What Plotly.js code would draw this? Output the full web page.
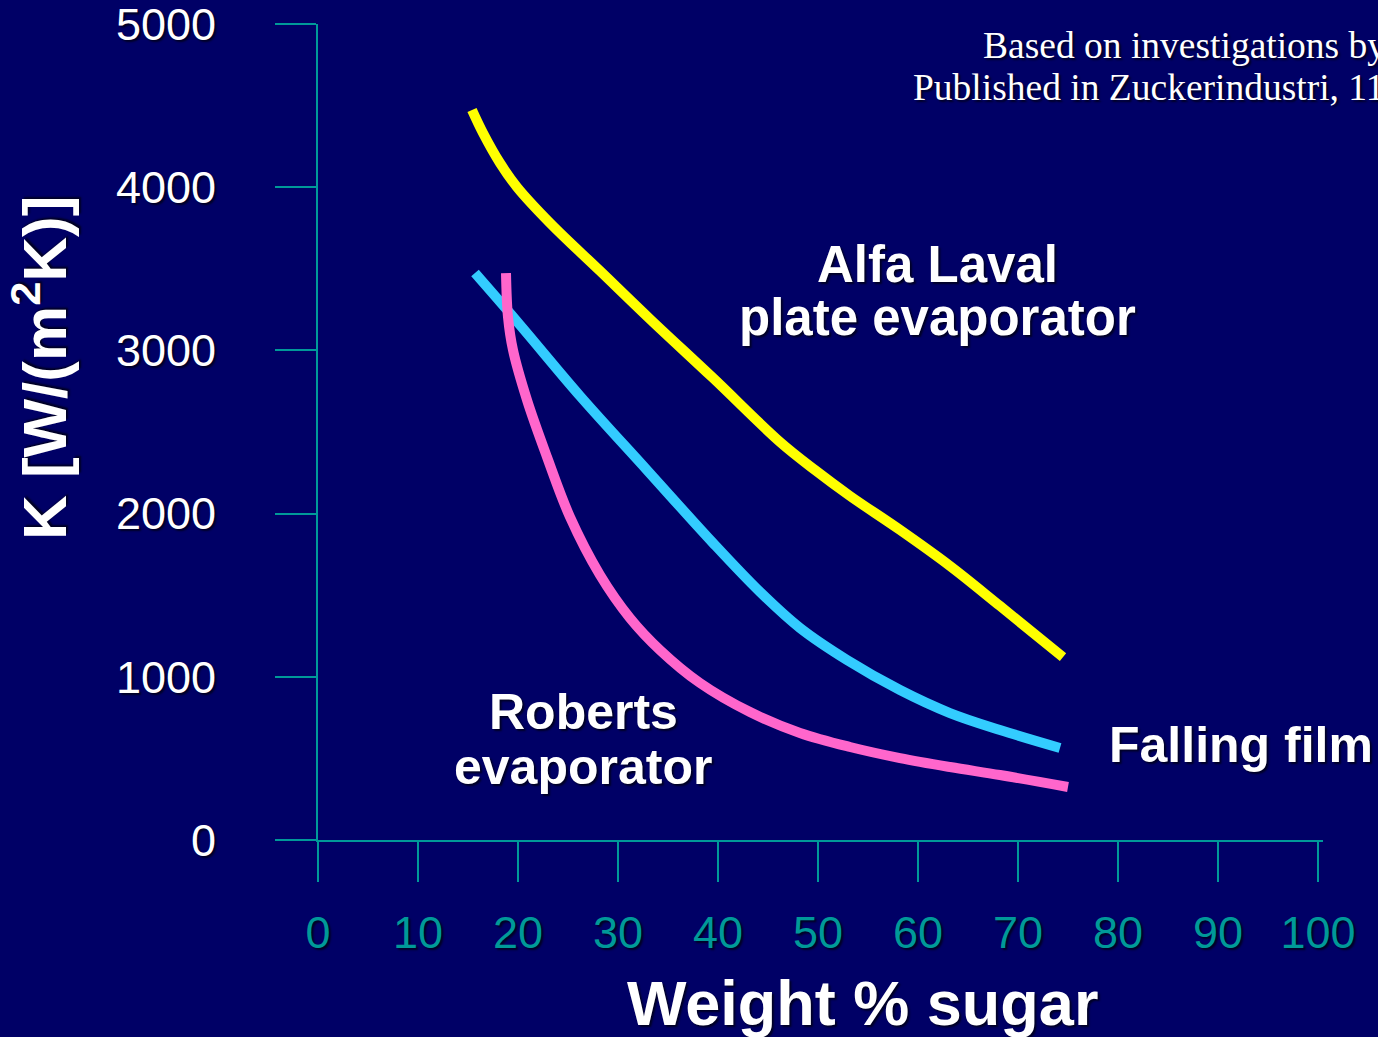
<!DOCTYPE html>
<html>
<head>
<meta charset="utf-8">
<script src="https://cdn.plot.ly/plotly-3.0.1.min.js"></script>
<style>html,body{margin:0;padding:0;background:#000066;overflow:hidden;}</style>
</head>
<body>
<div id="chart" style="width:1378px;height:1037px;"></div>
<script>
// Weight % sugar vs K [W/(m2K)]
const plateX = [15.4, 16.5, 18.2, 19.9, 23.2, 28.2, 33.2, 39.5, 46.2, 49.7, 53.2, 58.2, 63.2, 68.2, 74.5];
const plateY = [4473, 4332, 4148, 4001, 3781, 3487, 3192, 2831, 2439, 2267, 2108, 1900, 1679, 1434, 1121];

const fallingX = [15.7, 20.2, 26.2, 32.9, 39.5, 44.2, 48.2, 52.9, 58.2, 63.2, 68.2, 74.2];
const fallingY = [3474, 3156, 2721, 2267, 1820, 1520, 1299, 1103, 919, 778, 674, 564];

const robertsX = [18.8, 19.0, 19.5, 20.9, 22.9, 25.2, 28.2, 31.2, 34.2, 38.2, 43.2, 48.2, 53.2, 58.2, 63.2, 68.2, 75.0];
const robertsY = [3474, 3205, 3002, 2696, 2347, 1979, 1624, 1360, 1164, 962, 784, 656, 570, 502, 447, 398, 325];

const xTicks = [0, 10, 20, 30, 40, 50, 60, 70, 80, 90, 100];
const yTicks = [0, 1000, 2000, 3000, 4000, 5000];

const BG = '#000066';
const TEAL = '#009999';
const SHADOW = '2px 2px 2px rgba(0,0,20,0.8)';
const SANS = 'Liberation Sans, Arial, sans-serif';
const SERIF = 'Liberation Serif, Times New Roman, serif';

function line(x, y, color) {
  return {x: x, y: y, type: 'scatter', mode: 'lines',
    line: {color: color, width: 10, shape: 'spline', smoothing: 1},
    hoverinfo: 'skip', showlegend: false, cliponaxis: false};
}

const data = [
  line(plateX, plateY, '#FFFF00'),
  line(fallingX, fallingY, '#33CCFF'),
  line(robertsX, robertsY, '#FF66CC')
];

function ann(text, x, y, size, opts) {
  return Object.assign({
    text: text, x: x, y: y, xref: 'x', yref: 'y', showarrow: false,
    xanchor: 'center', yanchor: 'middle', borderpad: 0,
    font: {family: SANS, size: size, color: '#FFFFFF', weight: 'bold', shadow: SHADOW}
  }, opts || {});
}

const layout = {
  width: 1378, height: 1037,
  paper_bgcolor: BG, plot_bgcolor: BG,
  margin: {l: 318, r: 55, t: 24, b: 197, pad: 0},
  showlegend: false,
  xaxis: {
    range: [0, 100.5], tickvals: xTicks, ticktext: xTicks.map(String),
    showgrid: false, zeroline: false,
    showline: true, linecolor: TEAL, linewidth: 2,
    ticks: 'outside', ticklen: 40, tickwidth: 2, tickcolor: TEAL,
    ticklabelstandoff: 12, ticklabeloverflow: 'allow',
    tickfont: {family: SANS, size: 45, color: TEAL, shadow: SHADOW}
  },
  yaxis: {
    range: [0, 5000], tickvals: yTicks, ticktext: yTicks.map(String),
    showgrid: false, zeroline: false,
    showline: true, linecolor: TEAL, linewidth: 2,
    ticks: 'outside', ticklen: 41, tickwidth: 2, tickcolor: TEAL,
    ticklabelstandoff: 50, ticklabeloverflow: 'allow',
    tickfont: {family: SANS, size: 45, color: '#FFFFFF', shadow: SHADOW}
  },
  annotations: [
    ann('Alfa Laval', 61.9, 3529, 51),
    ann('plate evaporator', 61.9, 3199, 51),
    ann('Roberts', 26.5, 784, 50),
    ann('evaporator', 26.5, 447, 50),
    ann('Falling film', 79.0, 582, 50, {xanchor: 'left'}),
    ann('Weight % sugar', 0.5413, -0.1998, 63, {xref: 'paper', yref: 'paper'}),
    ann('K [W/(m<sup>2</sup>K)]', -0.2766, 0.5784, 62, {xref: 'paper', yref: 'paper', textangle: -90}),
    ann('Based on investigations by', 66.4, 4871, 37.5, {xanchor: 'left',
      font: {family: SERIF, size: 37.5, color: '#FFFFFF', shadow: SHADOW}}),
    ann('Published in Zuckerindustri, 11', 59.4, 4608, 37.5, {xanchor: 'left',
      font: {family: SERIF, size: 37.5, color: '#FFFFFF', shadow: SHADOW}})
  ]
};

Plotly.newPlot('chart', data, layout, {displayModeBar: false, staticPlot: true});
</script>
</body>
</html>
